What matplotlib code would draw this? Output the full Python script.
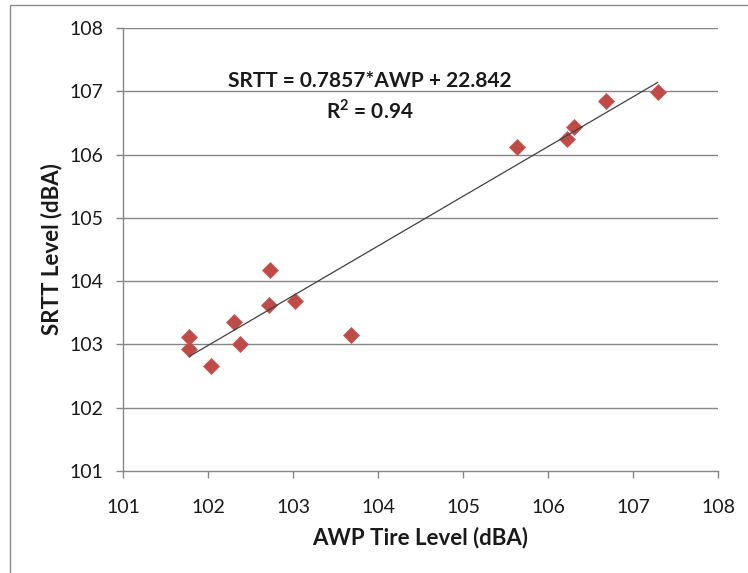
import matplotlib
matplotlib.use("Agg")
import matplotlib.pyplot as plt
from matplotlib.patches import Rectangle

# Data
awp = [101.78, 101.78, 102.04, 102.31, 102.38, 102.72, 102.73, 103.02, 103.68,
       105.64, 106.22, 106.31, 106.68, 107.29]
srtt = [103.11, 102.92, 102.66, 103.35, 103.00, 103.62, 104.17, 103.68, 103.15,
        106.12, 106.24, 106.43, 106.85, 106.99]
slope = 0.7857
intercept = 22.842
eq_text = "SRTT = 0.7857*AWP + 22.842"
r2_text = "R$^2$ = 0.94"
ticks = [101, 102, 103, 104, 105, 106, 107, 108]

plt.rcParams['font.family'] = ['Lato', 'DejaVu Sans']
plt.rcParams['mathtext.fontset'] = 'custom'
plt.rcParams['mathtext.rm'] = 'Lato:bold'

fig = plt.figure(figsize=(7.48, 5.73), dpi=100)
fig.patches.append(Rectangle((10 / 748, -0.05), 1.2, 1 - 5 / 573 + 0.05,
                             transform=fig.transFigure, fill=False,
                             edgecolor='#8c8c8c', linewidth=1.0))
ax = fig.add_axes([123 / 748, 1 - 471 / 573, (718 - 123) / 748, (471 - 28) / 573])

grid_c = '#868686'
for y in ticks[1:]:
    ax.axhline(y, color=grid_c, linewidth=1.0, zorder=1)

xmin, xmax = min(awp), max(awp)
ax.plot([xmin, xmax], [slope * xmin + intercept, slope * xmax + intercept],
        color='#404040', linewidth=0.9, zorder=3)
ax.plot(awp, srtt, linestyle='none', marker='D', markersize=7.8,
        markerfacecolor='#BE4B48', markeredgecolor='#C8605D', markeredgewidth=0.6,
        zorder=2)

ax.set_xlim(101, 108)
ax.set_ylim(101, 108)
ax.set_xticks(ticks)
ax.set_yticks(ticks)
ax.set_xticklabels([str(t) for t in ticks])
ax.set_yticklabels([str(t) for t in ticks])
for s in ['top', 'right']:
    ax.spines[s].set_visible(False)
for s in ['left', 'bottom']:
    ax.spines[s].set_color(grid_c)
    ax.spines[s].set_linewidth(1.0)
ax.tick_params(axis='both', direction='out', length=5, width=1.0, color=grid_c,
               labelsize=14, labelcolor='#1a1a1a')
ax.tick_params(axis='x', pad=15)
ax.tick_params(axis='y', pad=9)

ax.set_xlabel('AWP Tire Level (dBA)', fontsize=16, fontweight='bold',
              color='#1a1a1a', labelpad=8)
ax.set_ylabel('SRTT Level (dBA)', fontsize=16, fontweight='bold',
              color='#1a1a1a', labelpad=5)

ax.text(103.90, 107.16, eq_text, ha='center', va='center', fontsize=15,
        fontweight='bold', color='#1a1a1a')
ax.text(103.90, 106.69, r2_text, ha='center', va='center', fontsize=15,
        fontweight='bold', color='#1a1a1a')

fig.savefig('out.png', dpi=100)
